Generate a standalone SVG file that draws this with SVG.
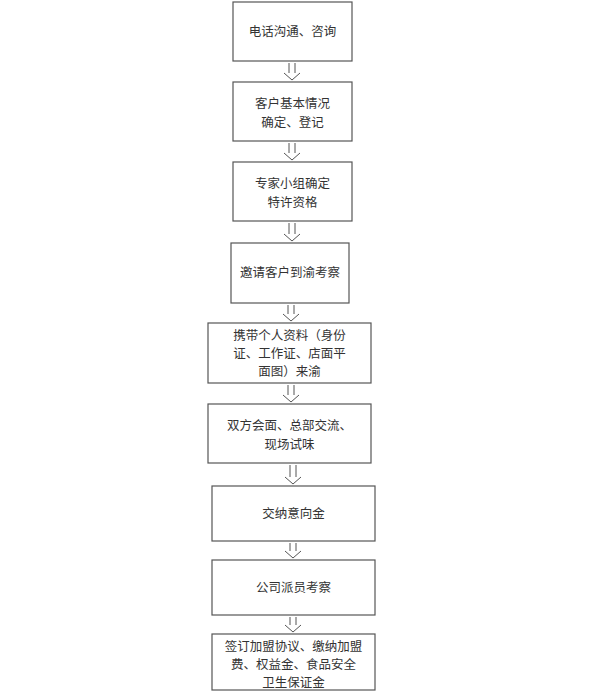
<svg xmlns="http://www.w3.org/2000/svg" width="600" height="700" viewBox="0 0 600 700">
<style>
rect{fill:#fff;stroke:#555;stroke-width:1.2}
text{font-family:"Noto Sans CJK SC","Noto Sans",sans-serif;font-size:12.5px;fill:#333;text-anchor:middle}
.c path{fill:none;stroke:#555;stroke-width:1}
</style>
<rect x="0" y="0" width="600" height="700" style="stroke:none"/>
<g class="c" id="connectors">
<path d="M289,63V73M295,63V73M284,73L292,80L300,73"/>
<path d="M289,143V153M295,143V153M284,153L292,160L300,153"/>
<path d="M289,223V234M295,223V234M284,234L292,241L300,234"/>
<path d="M288,305V314M294,305V314M283,314L291,321L299,314"/>
<path d="M288,385V395M294,385V395M283,395L291,402L299,395"/>
<path d="M290,465V477M296,465V477M285,477L293,484L301,477"/>
<path d="M290,543V551M296,543V551M285,551L293,558L301,551"/>
<path d="M290,617V625M296,617V625M285,625L293,632L301,625"/>
</g>
<g id="n1"><rect x="233" y="2" width="119" height="59"/><text x="292.5" y="36">电话沟通、咨询</text></g>
<g id="n2"><rect x="233" y="82" width="119" height="59"/><text x="292.5" y="108">客户基本情况</text><text x="292.5" y="127">确定、登记</text></g>
<g id="n3"><rect x="233" y="162" width="119" height="59"/><text x="292.5" y="188">专家小组确定</text><text x="292.5" y="207">特许资格</text></g>
<g id="n4"><rect x="231" y="243" width="118" height="60"/><text x="290" y="277">邀请客户到渝考察</text></g>
<g id="n5"><rect x="208" y="323" width="163" height="60"/><text x="289.5" y="340">携带个人资料（身份</text><text x="289.5" y="358">证、工作证、店面平</text><text x="289.5" y="376">面图）来渝</text></g>
<g id="n6"><rect x="208" y="404" width="163" height="59"/><text x="289.5" y="430">双方会面、总部交流、</text><text x="289.5" y="449">现场试味</text></g>
<g id="n7"><rect x="212" y="486" width="163" height="55"/><text x="293.5" y="518">交纳意向金</text></g>
<g id="n8"><rect x="212" y="560" width="163" height="55"/><text x="293.5" y="592">公司派员考察</text></g>
<g id="n9"><rect x="212" y="634" width="163" height="56"/><text x="293.5" y="651">签订加盟协议、缴纳加盟</text><text x="293.5" y="669">费、权益金、食品安全</text><text x="293.5" y="687">卫生保证金</text></g>
</svg>
